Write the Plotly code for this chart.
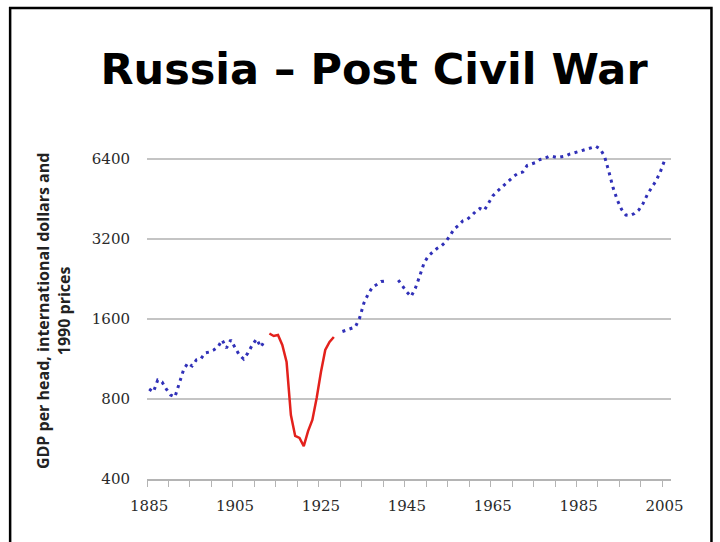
import plotly.graph_objects as go

# ---- data ----
blue_years_a = list(range(1885, 1913))
blue_vals_a = [872, 850, 943, 927, 872, 828, 814, 911, 1028, 1093, 1065, 1122, 1131, 1192,
               1202, 1223, 1255, 1334, 1245, 1334, 1245, 1171, 1131, 1192, 1277, 1346, 1255, 1334]

blue_years_b = list(range(1930, 1941))
blue_vals_b = [1436, 1455, 1474, 1493, 1614, 1838, 1987, 2111, 2157, 2214, 2224]

blue_years_c = list(range(1943, 2006))
blue_vals_c = [2243, 2130, 2022, 1944, 2093, 2322, 2599, 2762, 2847, 2947, 3012, 3118, 3284,
               3490, 3597, 3740, 3789, 3906, 4061, 4168, 4097, 4371, 4645, 4829, 4999, 5175,
               5335, 5524, 5669, 5718, 6050, 6129, 6209, 6372, 6428, 6540, 6540, 6484, 6512,
               6568, 6683, 6771, 6829, 6901, 6979, 7052, 7143, 6979, 6568, 5768, 4999, 4486,
               4132, 3939, 3922, 3991, 4114, 4352, 4706, 4999, 5289, 5718, 6317]

red_years = list(range(1913, 1929))
red_vals = [1411, 1381, 1393, 1277, 1102, 696, 581, 571, 532, 606, 667, 807, 1011, 1223, 1311, 1369]

x_ticks = [1885, 1905, 1925, 1945, 1965, 1985, 2005]
y_ticks = [400, 800, 1600, 3200, 6400]

title_text = "Russia \u2013 Post Civil War"
y_title = "GDP per head, international dollars and<br>1990 prices"

# ---- build ----
bx = blue_years_a + [None] + blue_years_b + [None] + blue_years_c
by = blue_vals_a + [None] + blue_vals_b + [None] + blue_vals_c

W, H = 720, 542
L, R, T, B = 147, 48.5, 140, 63
pw, ph = W - L - R, H - T - B

def px_x(p):
    return (p - L) / pw

def px_y(p):
    return (H - B - p) / ph

fig = go.Figure()
fig.add_trace(go.Scatter(x=bx, y=by, mode="lines",
                         line=dict(color="#3030b8", width=3, dash="3px,4.5px"),
                         connectgaps=False, hoverinfo="skip"))
fig.add_trace(go.Scatter(x=red_years, y=red_vals, mode="lines",
                         line=dict(color="#e3211c", width=2.5), hoverinfo="skip"))

fig.update_layout(
    width=W, height=H,
    margin=dict(l=L, r=R, t=T, b=B),
    paper_bgcolor="white", plot_bgcolor="white",
    showlegend=False,
    title=dict(text=title_text, x=374 / W, xanchor="center", y=1 - 69 / H, yanchor="middle",
               font=dict(family="DejaVu Sans", size=43, color="black", weight=700)),
    xaxis=dict(range=[1884.5, 2006.5], tickvals=x_ticks, ticktext=[str(v) for v in x_ticks],
               showgrid=False, zeroline=False, ticks="",
               showline=True, linecolor="#b4b4b4", linewidth=1.5,
               ticklabelstandoff=12,
               minor=dict(ticks="outside", ticklen=6, tickcolor="#b4b4b4", tickwidth=1,
                          tick0=1884.5, dtick=5, showgrid=False),
               tickfont=dict(family="DejaVu Serif", size=15, color="#2a2a2a")),
    yaxis=dict(type="log", range=[2.60206, 3.87767], tickvals=y_ticks,
               ticktext=[str(v) for v in y_ticks], ticks="",
               showgrid=True, gridcolor="#c4c4c4", gridwidth=1.5, zeroline=False,
               showline=False, ticklabelstandoff=16,
               tickfont=dict(family="DejaVu Serif", size=15, color="#2a2a2a")),
)

fig.add_annotation(text=y_title, xref="paper", yref="paper", x=px_x(53), y=px_y(311),
                   xanchor="center", yanchor="middle", textangle=-90, showarrow=False,
                   font=dict(family="Open Sans", size=16, color="#222", weight=700))

fig.add_shape(type="rect", xref="paper", yref="paper",
              x0=px_x(10), x1=px_x(712), y0=px_y(560), y1=px_y(8),
              line=dict(color="black", width=2.5), fillcolor="rgba(0,0,0,0)", layer="above")

fig.write_html("out.html")
